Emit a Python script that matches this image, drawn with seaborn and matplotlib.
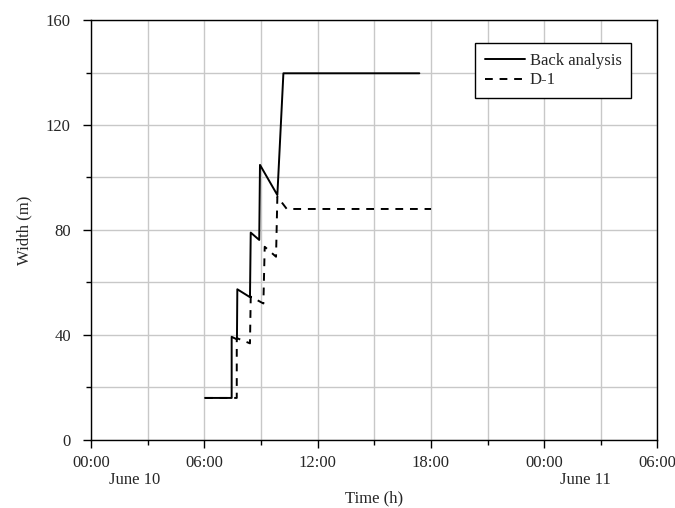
import matplotlib
matplotlib.use("Agg")
import matplotlib.pyplot as plt
import seaborn as sns
import pandas as pd
from matplotlib.ticker import MultipleLocator

# ---- data (hours since 00:00 June 10, width in m) ----
back_t = [6.04, 7.45, 7.45, 7.73, 7.75, 8.42, 8.46, 8.91, 8.95, 9.87, 10.19, 17.39]
back_w = [16, 16, 39.3, 38.3, 57.4, 54.4, 79, 76.2, 104.8, 93.3, 139.7, 139.7]
d1_t = [6.04, 7.72, 7.72, 8.42, 8.46, 9.13, 9.20, 9.80, 9.87, 10.37, 18.01]
d1_w = [16, 16, 38.8, 36.8, 54.6, 52.0, 73.6, 69.8, 92.7, 88.0, 88.0]

x_ticks = [0, 6, 12, 18, 24, 30]
x_labels = ["00:00", "06:00", "12:00", "18:00", "00:00", "06:00"]
date_labels = ["June 10", "June 11"]
date_pos = [2.3, 26.2]

sns.set_style("white")
plt.rcParams["font.family"] = ["Liberation Serif", "DejaVu Serif"]
plt.rcParams["font.size"] = 12

fig = plt.figure(figsize=(6.75, 5.08), dpi=100)
ax = fig.add_axes([0.1348, 0.134, 0.8392, 0.8266])

df_b = pd.DataFrame({"t": back_t, "w": back_w})
df_d = pd.DataFrame({"t": d1_t, "w": d1_w})
sns.lineplot(data=df_b, x="t", y="w", sort=False, estimator=None, color="black",
             linewidth=1.4, ax=ax, label="Back analysis")
sns.lineplot(data=df_d, x="t", y="w", sort=False, estimator=None, color="black",
             linewidth=1.4, ax=ax, label="D-1", linestyle=(0, (4, 3.5)))

ax.set_xlim(0, 30)
ax.set_ylim(0, 160)
ax.set_xticks(x_ticks)
ax.set_xticklabels(x_labels)
ax.xaxis.set_minor_locator(MultipleLocator(3))
ax.yaxis.set_major_locator(MultipleLocator(40))
ax.yaxis.set_minor_locator(MultipleLocator(20))
ax.grid(True, which="both", color="#c8c8c8", linewidth=1.0)
ax.set_axisbelow(True)
for s in ax.spines.values():
    s.set_color("black")
    s.set_linewidth(1.0)
ax.tick_params(axis="both", which="major", direction="out", length=6, width=1,
               color="black", labelsize=12, bottom=True, left=True)
ax.tick_params(axis="x", which="major", pad=5)
ax.tick_params(axis="y", which="major", pad=8.5)
ax.tick_params(axis="both", which="minor", direction="out", length=3.5, width=1,
               color="black", bottom=True, left=True)

for lab, pos in zip(date_labels, date_pos):
    ax.text(pos, -40 / 420, lab, transform=ax.get_xaxis_transform(), ha="center",
            va="center", fontsize=12)

ax.set_xlabel("Time (h)", fontsize=12)
ax.xaxis.set_label_coords(0.5, -58 / 420)
ax.xaxis.label.set_va("center")
ax.set_ylabel("Width (m)", fontsize=12)
ax.yaxis.set_label_coords(-67 / 566.5, 0.5)
ax.yaxis.label.set_va("center")

leg = ax.legend(loc="upper right", bbox_to_anchor=(0.954, 0.945), frameon=True,
                fancybox=False, edgecolor="black", framealpha=1, borderaxespad=0,
                handlelength=2.4, handletextpad=0.3, fontsize=12, borderpad=0.6,
                labelspacing=0.2)
leg.get_frame().set_linewidth(1.0)

fig.savefig("out.png", dpi=100)
